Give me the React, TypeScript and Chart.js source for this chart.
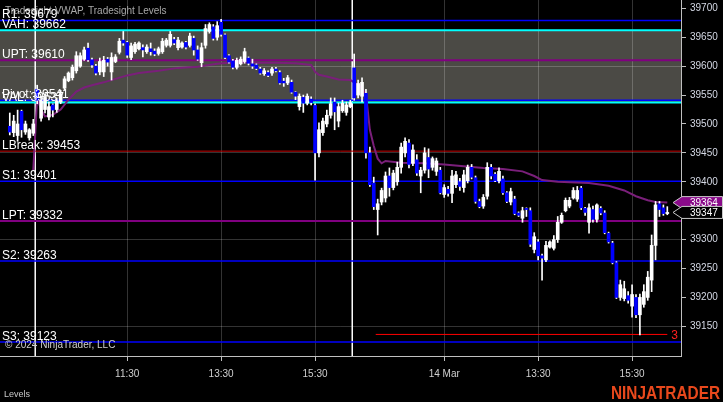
import React, { useEffect, useRef } from 'react';
import { Chart, registerables } from 'chart.js';

Chart.register(...registerables);

const FONT = "Arial, 'Liberation Sans', sans-serif";
const TOTAL_SLOTS = 174;
const FIRST_BAR_SLOT = 2;

// OHLC, 5-minute bars (first bar at slot 2)
const opens = [
  39496, 39485, 39480, 39522, 39486, 39476, 39484, 39560, 39510, 39525,
  39512, 39533, 39525, 39538, 39562, 39575, 39580, 39592, 39600, 39612,
  39631, 39611, 39600, 39590, 39590, 39612, 39590, 39608, 39624, 39645,
  39641, 39615, 39625, 39630, 39632, 39625, 39630, 39626, 39622, 39625,
  39636, 39636, 39646, 39632, 39633, 39641, 39636, 39648, 39628, 39606,
  39636, 39660, 39668, 39650, 39676, 39654, 39618, 39609, 39598, 39604,
  39608, 39614, 39604, 39602, 39595, 39587, 39589, 39588, 39595, 39589,
  39574, 39571, 39572, 39555, 39530, 39546, 39536, 39543, 39532, 39450,
  39485, 39500, 39515, 39538, 39505, 39523, 39520, 39530, 39597, 39550,
  39548, 39553, 39450, 39398, 39352, 39365, 39372, 39410, 39390, 39400,
  39425, 39450, 39467, 39432, 39438, 39410, 39420, 39442, 39425, 39418,
  39420, 39378, 39387, 39380, 39395, 39400, 39390, 39402, 39425, 39407,
  39366, 39358, 39375, 39425, 39413, 39402, 39405, 39381, 39365, 39370,
  39346, 39337, 39354, 39350, 39283, 39296, 39272, 39265, 39287, 39285,
  39300, 39330, 39350, 39358, 39372, 39370, 39389, 39354, 39330, 39352,
  39335, 39354, 39346, 39311, 39294, 39260, 39200, 39198, 39203, 39185,
  39200, 39170, 39188, 39200, 39230, 39290, 39362, 39355, 39345,
];
const highs = [
  39519, 39515, 39524, 39524, 39505, 39492, 39508, 39567, 39548, 39550,
  39538, 39535, 39545, 39558, 39582, 39590, 39602, 39625, 39623, 39633,
  39640, 39614, 39603, 39614, 39617, 39615, 39623, 39620, 39648, 39660,
  39643, 39640, 39641, 39642, 39637, 39637, 39640, 39630, 39633, 39648,
  39648, 39660, 39650, 39650, 39642, 39643, 39657, 39652, 39635, 39640,
  39672, 39675, 39672, 39677, 39681, 39656, 39620, 39612, 39614, 39616,
  39631, 39616, 39612, 39604, 39598, 39596, 39592, 39598, 39598, 39592,
  39579, 39584, 39576, 39556, 39552, 39550, 39552, 39547, 39535, 39502,
  39510, 39524, 39545, 39545, 39536, 39541, 39538, 39541, 39621, 39576,
  39580, 39560, 39460, 39408, 39370, 39389, 39417, 39424, 39420, 39434,
  39467, 39476, 39473, 39464, 39447, 39425, 39459, 39457, 39443, 39441,
  39425, 39395, 39392, 39420, 39418, 39406, 39420, 39429, 39430, 39410,
  39370, 39378, 39433, 39430, 39416, 39424, 39410, 39383, 39389, 39375,
  39348, 39356, 39355, 39355, 39312, 39300, 39275, 39297, 39298, 39307,
  39340, 39346, 39372, 39373, 39390, 39392, 39392, 39356, 39362, 39358,
  39362, 39357, 39350, 39313, 39297, 39262, 39230, 39228, 39210, 39222,
  39205, 39206, 39222, 39245, 39308, 39366, 39366, 39360, 39357,
];
const lows = [
  39481, 39478, 39470, 39477, 39482, 39472, 39480, 39535, 39505, 39519,
  39507, 39512, 39520, 39535, 39558, 39573, 39576, 39588, 39598, 39610,
  39608, 39598, 39585, 39585, 39582, 39600, 39576, 39606, 39621, 39636,
  39615, 39611, 39622, 39628, 39616, 39622, 39619, 39618, 39619, 39622,
  39633, 39633, 39637, 39628, 39631, 39630, 39633, 39619, 39610, 39599,
  39631, 39657, 39645, 39645, 39652, 39613, 39605, 39595, 39595, 39602,
  39605, 39602, 39596, 39594, 39586, 39584, 39582, 39584, 39590, 39569,
  39565, 39568, 39553, 39542, 39524, 39520, 39533, 39533, 39403, 39443,
  39480, 39495, 39510, 39490, 39495, 39520, 39515, 39528, 39541, 39545,
  39538, 39441, 39392, 39352, 39308, 39360, 39365, 39375, 39386, 39394,
  39415, 39443, 39424, 39428, 39411, 39381, 39415, 39407, 39420, 39411,
  39379, 39373, 39375, 39364, 39390, 39385, 39382, 39398, 39405, 39363,
  39355, 39354, 39370, 39405, 39400, 39398, 39378, 39364, 39360, 39343,
  39340, 39330, 39340, 39288, 39277, 39265, 39230, 39262, 39285, 39282,
  39295, 39328, 39348, 39355, 39370, 39366, 39352, 39342, 39311, 39330,
  39330, 39343, 39310, 39294, 39258, 39198, 39195, 39194, 39190, 39166,
  39165, 39135, 39183, 39195, 39210, 39265, 39340, 39342, 39343,
];
const closes = [
  39486, 39505, 39500, 39490, 39500, 39490, 39500, 39541, 39540, 39545,
  39530, 39524, 39540, 39552, 39578, 39588, 39598, 39618, 39618, 39628,
  39611, 39602, 39588, 39608, 39610, 39607, 39615, 39616, 39643, 39640,
  39619, 39635, 39638, 39640, 39628, 39633, 39625, 39621, 39630, 39643,
  39645, 39655, 39640, 39645, 39640, 39633, 39652, 39628, 39612, 39632,
  39665, 39672, 39648, 39670, 39655, 39615, 39607, 39598, 39610, 39612,
  39625, 39605, 39600, 39596, 39588, 39592, 39584, 39595, 39592, 39571,
  39571, 39580, 39555, 39548, 39548, 39536, 39548, 39537, 39450, 39490,
  39505, 39515, 39535, 39521, 39530, 39536, 39533, 39537, 39545, 39570,
  39572, 39450, 39395, 39357, 39362, 39385, 39410, 39390, 39415, 39425,
  39460, 39470, 39430, 39455, 39415, 39420, 39450, 39422, 39440, 39436,
  39381, 39390, 39380, 39410, 39412, 39392, 39412, 39425, 39408, 39366,
  39357, 39373, 39425, 39410, 39402, 39418, 39381, 39366, 39383, 39345,
  39342, 39350, 39352, 39292, 39305, 39272, 39268, 39290, 39296, 39300,
  39330, 39342, 39368, 39368, 39385, 39385, 39355, 39347, 39355, 39335,
  39360, 39346, 39312, 39296, 39260, 39200, 39222, 39215, 39195, 39205,
  39170, 39200, 39210, 39235, 39290, 39360, 39352, 39345, 39347,
];

// Tradesight VWAP readings (slot index, value)
const vwapSlots = [
  8, 9, 10, 11, 13, 15, 17, 19, 21, 23, 26, 29, 32, 35, 40, 45, 50, 55, 60, 66,
  70, 75, 79, 80, 81, 83, 86, 89, 91, 92, 93, 94, 95, 96, 97, 98, 102, 108, 113,
  118, 123, 128, 133, 136, 138, 142, 150, 155, 159, 162, 165, 167, 170,
];
const vwapValues = [
  39420, 39545, 39525, 39513, 39516, 39525, 39542, 39556, 39563, 39567, 39572,
  39578, 39584, 39588, 39592, 39597, 39599, 39604, 39607, 39606, 39606, 39605,
  39602, 39590, 39585, 39582, 39577, 39576, 39568, 39561, 39552, 39490, 39462,
  39440, 39432, 39436, 39433, 39432, 39430, 39427, 39424, 39422, 39418, 39410,
  39403, 39400, 39398, 39393, 39385, 39375, 39368, 39365, 39364,
];

// Tradesight levels
const levelNames = ['R1', 'VAH', 'UPT', 'Pivot', 'VAL', 'LBreak', 'S1', 'LPT', 'S2', 'S3'];
const levelValues = [39679, 39662, 39610, 39541, 39537, 39453, 39401, 39332, 39263, 39123];
const levelColors = ['#0000ff', '#00ffff', '#800080', '#0000ff', '#00ffff', '#c80000', '#0000ff', '#800080', '#0000ff', '#0000ff'];
const levelWidths = [1.5, 2, 2, 1.5, 2, 1, 1.5, 2, 1.5, 1.5];
const valueAreaHigh = 39662;
const valueAreaLow = 39537;

// target line
const targetValue = 39136;
const targetStartSlot = 95.5;
const targetEndSlot = 170;
const targetLabel = '3';

// axes
const yMin = 39098.7;
const yMax = 39714.4;
const yTicks = [39150, 39200, 39250, 39300, 39350, 39400, 39450, 39500, 39550, 39600, 39650, 39700];
const yGridValues = [39150, 39300, 39450, 39600];
const xTickSlots = [32, 56, 80, 113, 137, 161];
const xTickLabels = ['11:30', '13:30', '15:30', '14 Mar', '13:30', '15:30'];
const sessionBreakSlots = [8.5, 89.5];

const vwapLast = 39364;
const lastPrice = 39347;

const GRID = 'rgba(255,255,255,0.2)';
const NONE = 'rgba(0,0,0,0)';

function priceTag(ctx: CanvasRenderingContext2D, y: number, fill: string, text: string) {
  const x0 = 673, x1 = 682, x2 = 722.5, h = 6;
  ctx.beginPath();
  ctx.moveTo(x0, y);
  ctx.lineTo(x1, y - h);
  ctx.lineTo(x2, y - h);
  ctx.lineTo(x2, y + h);
  ctx.lineTo(x1, y + h);
  ctx.closePath();
  ctx.fillStyle = fill;
  ctx.fill();
  ctx.strokeStyle = '#c8c8c8';
  ctx.lineWidth = 1;
  ctx.stroke();
  ctx.fillStyle = '#ffffff';
  ctx.font = `10px ${FONT}`;
  ctx.textAlign = 'left';
  ctx.textBaseline = 'middle';
  ctx.fillText(text, 690, y + 0.5);
}

const overlayPlugin = {
  id: 'overlay',
  beforeDraw(chart: any) {
    const { ctx, chartArea: a } = chart;
    const y = chart.scales.y;
    ctx.save();
    ctx.fillStyle = '#000000';
    ctx.fillRect(0, 0, chart.width, chart.height);
    const yt = y.getPixelForValue(valueAreaHigh);
    const yb = y.getPixelForValue(valueAreaLow);
    ctx.fillStyle = '#4b4a45';
    ctx.fillRect(a.left, yt, a.right - a.left, yb - yt);
    ctx.restore();
  },
  beforeDatasetsDraw(chart: any) {
    const { ctx, chartArea: a } = chart;
    const x = chart.scales.x;
    const y = chart.scales.y;
    ctx.save();
    // session breaks
    ctx.strokeStyle = '#ffffff';
    ctx.lineWidth = 1.5;
    sessionBreakSlots.forEach((s) => {
      const px = x.getPixelForValue(s);
      ctx.beginPath();
      ctx.moveTo(px, a.top);
      ctx.lineTo(px, a.bottom);
      ctx.stroke();
    });
    // levels
    levelValues.forEach((v, i) => {
      const py = y.getPixelForValue(v);
      ctx.strokeStyle = levelColors[i];
      ctx.lineWidth = levelWidths[i];
      ctx.beginPath();
      ctx.moveTo(a.left, py);
      ctx.lineTo(a.right, py);
      ctx.stroke();
    });
    // target line
    const ty = y.getPixelForValue(targetValue);
    ctx.strokeStyle = '#ff0000';
    ctx.lineWidth = 1;
    ctx.beginPath();
    ctx.moveTo(x.getPixelForValue(targetStartSlot), ty);
    ctx.lineTo(x.getPixelForValue(targetEndSlot), ty);
    ctx.stroke();
    ctx.restore();
  },
  afterDatasetsDraw(chart: any) {
    const { ctx, chartArea: a } = chart;
    const x = chart.scales.x;
    const y = chart.scales.y;
    ctx.save();
    ctx.textAlign = 'left';
    ctx.textBaseline = 'alphabetic';
    // title
    ctx.font = `10px ${FONT}`;
    ctx.fillStyle = '#a8a8a8';
    ctx.fillText('Tradesight VWAP, Tradesight Levels', 5, 14);
    // level labels
    ctx.font = `12px ${FONT}`;
    ctx.fillStyle = '#ffffff';
    levelValues.forEach((v, i) => {
      const py = y.getPixelForValue(v);
      ctx.fillText(`${levelNames[i]}: ${v}`, 2, py - 2);
    });
    // target label
    ctx.fillStyle = '#ff2020';
    ctx.font = `12px ${FONT}`;
    ctx.fillText(targetLabel, x.getPixelForValue(targetEndSlot) + 4, y.getPixelForValue(targetValue) + 5);
    // copyright
    ctx.font = `10px ${FONT}`;
    ctx.fillStyle = '#cfcfcf';
    ctx.fillText('\u00a9 2024 NinjaTrader, LLC', 5, a.bottom - 8);
    // bottom-left label
    ctx.font = `9px ${FONT}`;
    ctx.fillStyle = '#c8c8c8';
    ctx.fillText('Levels', 4, 397);
    // logo
    ctx.font = `bold 18px ${FONT}`;
    ctx.fillStyle = '#e8481c';
    const w = ctx.measureText('NINJATRADER').width;
    ctx.save();
    ctx.translate(611, 399);
    ctx.scale(109 / w, 1);
    ctx.fillText('NINJATRADER', 0, 0);
    ctx.restore();
    // price tags
    priceTag(ctx, y.getPixelForValue(vwapLast), '#8a0a8a', String(vwapLast));
    priceTag(ctx, y.getPixelForValue(lastPrice), '#000000', String(lastPrice));
    ctx.restore();
  },
};

export default function App() {
  const ref = useRef<HTMLCanvasElement | null>(null);

  useEffect(() => {
    if (!ref.current) return;
    const labels = Array.from({ length: TOTAL_SLOTS }, (_, i) => String(i));
    const barAt = (i: number) => i - FIRST_BAR_SLOT;
    const inRange = (k: number) => k >= 0 && k < opens.length;
    const bodyData = labels.map((_, i) => {
      const k = barAt(i);
      if (!inRange(k)) return null;
      return [Math.min(opens[k], closes[k]), Math.max(opens[k], closes[k])];
    });
    const bodyColors = labels.map((_, i) => {
      const k = barAt(i);
      if (!inRange(k)) return '#ffffff';
      return closes[k] >= opens[k] ? '#ffffff' : '#0000ff';
    });
    const wickData = labels.map((_, i) => {
      const k = barAt(i);
      if (!inRange(k)) return null;
      return [lows[k], highs[k]];
    });
    const vwapData: (number | null)[] = labels.map(() => null);
    vwapSlots.forEach((s, j) => {
      vwapData[s] = vwapValues[j];
    });

    const chart = new Chart(ref.current, {
      type: 'bar',
      data: {
        labels,
        datasets: [
          {
            type: 'bar',
            data: bodyData as any,
            backgroundColor: bodyColors,
            barThickness: 3,
            grouped: false,
            borderWidth: 0,
            order: 1,
          } as any,
          {
            type: 'bar',
            data: wickData as any,
            backgroundColor: '#ffffff',
            barThickness: 1,
            grouped: false,
            borderWidth: 0,
            order: 2,
          } as any,
          {
            type: 'line',
            data: vwapData,
            borderColor: '#7a1f7a',
            borderWidth: 2,
            pointRadius: 0,
            spanGaps: true,
            tension: 0,
            order: 3,
          } as any,
        ],
      },
      options: {
        animation: false,
        responsive: false,
        maintainAspectRatio: false,
        devicePixelRatio: 1,
        layout: { padding: 0, autoPadding: false } as any,
        plugins: {
          legend: { display: false },
          tooltip: { enabled: false },
        },
        scales: {
          x: {
            type: 'category',
            offset: true,
            grid: {
              offset: false,
              color: (c: any) => (xTickSlots.includes(c.index) ? GRID : NONE),
              tickColor: (c: any) => (xTickSlots.includes(c.index) ? '#bfbfbf' : NONE),
              tickLength: 5,
              drawTicks: true,
            },
            border: { color: '#bfbfbf', width: 1 },
            ticks: {
              autoSkip: false,
              maxRotation: 0,
              minRotation: 0,
              color: '#d0d0d0',
              padding: 7,
              font: { size: 10, family: FONT },
              callback: (_v: any, i: number) => {
                const j = xTickSlots.indexOf(i);
                return j >= 0 ? xTickLabels[j] : '';
              },
            },
            afterFit: (s: any) => {
              s.height = 46;
              s.paddingLeft = 0;
              s.paddingRight = 0;
            },
          } as any,
          y: {
            type: 'linear',
            position: 'right',
            min: yMin,
            max: yMax,
            afterBuildTicks: (s: any) => {
              s.ticks = yTicks.map((v) => ({ value: v }));
            },
            grid: {
              color: (c: any) => (c.tick && yGridValues.includes(c.tick.value) ? GRID : NONE),
              tickColor: '#bfbfbf',
              tickLength: 5,
              drawTicks: true,
            },
            border: { color: '#bfbfbf', width: 1 },
            ticks: {
              color: '#d4d8e4',
              padding: 4,
              font: { size: 10, family: FONT },
              callback: (v: any) => String(v),
            },
            afterFit: (s: any) => {
              s.width = 42;
              s.paddingTop = 0;
              s.paddingBottom = 0;
            },
          } as any,
        },
      },
      plugins: [overlayPlugin],
    });
    return () => chart.destroy();
  }, []);

  return (
    <div style={{ position: 'fixed', left: 0, top: 0, width: 723, height: 402, background: '#000' }}>
      <canvas ref={ref} width={723} height={402} style={{ display: 'block', width: 723, height: 402 }} />
    </div>
  );
}
